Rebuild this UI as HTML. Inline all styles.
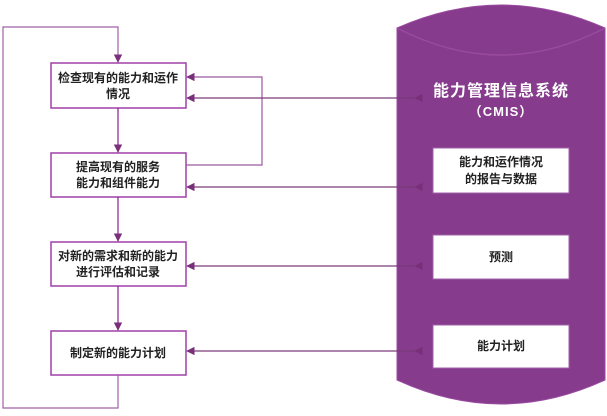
<!DOCTYPE html>
<html><head><meta charset="utf-8"><style>
body{margin:0;background:#fff}
svg text{font-family:"Liberation Sans","Noto Sans CJK SC",sans-serif;}
</style></head><body>
<svg width="607" height="411" viewBox="0 0 607 411" xmlns="http://www.w3.org/2000/svg">
<defs>
<marker id="a" viewBox="0 0 10 10" refX="9" refY="5" markerWidth="7" markerHeight="7" orient="auto"><path d="M0,0L10,5L0,10z" fill="#7a2f7a"/></marker>
</defs>
<path d="M397,28 Q501,-18 605,28 L605,380 Q501,428 397,380 Z" fill="#863b8c" stroke="#9a4aa0"/>
<path d="M397,28 Q501,82 605,28" fill="none" stroke="#9a4aa0" stroke-width="1.5"/>
<text x="501" y="96" font-size="16" font-weight="bold" fill="#fff" text-anchor="middle" letter-spacing="1">能力管理信息系统</text>
<text x="501" y="116" font-size="13" font-weight="bold" fill="#fff" text-anchor="middle" letter-spacing="1">（CMIS）</text>
<g fill="#fff" stroke="#a060a8">
<rect x="433" y="148" width="136" height="45"/>
<rect x="433" y="235" width="136" height="44"/>
<rect x="433" y="325" width="136" height="43"/>
</g>
<g font-size="12" font-weight="600" fill="#222" text-anchor="middle">
<text x="501" y="166">能力和运作情况</text>
<text x="501" y="183">的报告与数据</text>
<text x="501" y="261">预测</text>
<text x="501" y="350">能力计划</text>
</g>
<g fill="#fff" stroke="#a040a8" stroke-width="1.5">
<rect x="51" y="63" width="135" height="45"/>
<rect x="51" y="153" width="135" height="44"/>
<rect x="51" y="242" width="135" height="44"/>
<rect x="51" y="331" width="135" height="44"/>
</g>
<g font-size="12" font-weight="600" fill="#222" text-anchor="middle">
<text x="118" y="82">检查现有的能力和运作</text>
<text x="118" y="98">情况</text>
<text x="118" y="171">提高现有的服务</text>
<text x="118" y="187">能力和组件能力</text>
<text x="118" y="260">对新的需求和新的能力</text>
<text x="118" y="276">进行评估和记录</text>
<text x="118" y="357">制定新的能力计划</text>
</g>
<g stroke="#8b1a8b" stroke-width="1.2" fill="none" marker-end="url(#a)">
<path d="M118,108V152"/>
<path d="M118,197V241"/>
<path d="M118,286V330"/>
</g>
<path d="M118,375V408H3V27H118V62" stroke="#a060a8" stroke-width="1.2" fill="none" marker-end="url(#a)"/>
<path d="M186,165H262V77H187" stroke="#9a5aa0" stroke-width="1.2" fill="none" marker-end="url(#a)"/>
<g stroke="#7a3a7a" stroke-width="1.2" fill="none" marker-start="url(#a)" marker-end="url(#a)">
<path d="M415,98H187" />
<path d="M415,187H187" />
<path d="M415,266H187" />
<path d="M415,351H187" />
</g>
</svg>
</body></html>
